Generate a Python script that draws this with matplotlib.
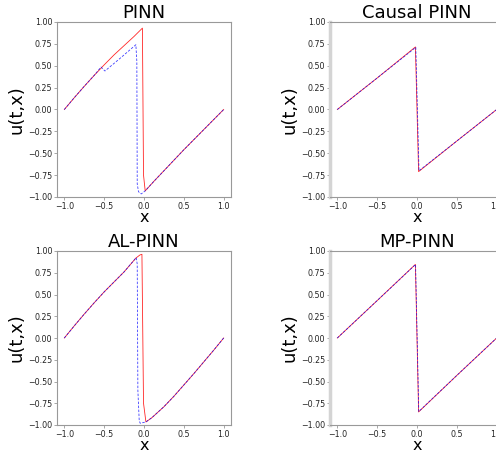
import matplotlib
matplotlib.use("Agg")
import matplotlib.pyplot as plt

titles = ["PINN", "Causal PINN", "AL-PINN", "MP-PINN"]

# PINN
pinn_x_exact = [-1.0, -0.875, -0.75, -0.625, -0.5, -0.375, -0.25, -0.125, -0.02, -0.006, 0.015, 0.125, 0.25, 0.375, 0.5, 0.625, 0.75, 0.875, 1.0]
pinn_u_exact = [0.0, 0.135, 0.265, 0.39, 0.51, 0.625, 0.73, 0.835, 0.93, -0.75, -0.93, -0.82, -0.70, -0.58, -0.46, -0.345, -0.23, -0.115, 0.0]
pinn_x_pred = [-1.0, -0.875, -0.75, -0.625, -0.54, -0.49, -0.3, -0.102, -0.09, -0.085, -0.069, -0.035, 0.015, 0.125, 0.25, 0.375, 0.5, 0.625, 0.75, 0.875, 1.0]
pinn_u_pred = [0.0, 0.135, 0.265, 0.39, 0.485, 0.44, 0.585, 0.74, 0.55, -0.85, -0.94, -0.965, -0.93, -0.82, -0.70, -0.58, -0.46, -0.345, -0.23, -0.115, 0.0]

# Causal PINN
causal_x_exact = [-1.0, -0.5, -0.02, 0.02, 0.5, 1.0]
causal_u_exact = [0.0, 0.36, 0.715, -0.71, -0.36, 0.0]
causal_x_pred = [-1.0, -0.5, -0.015, 0.025, 0.5, 1.0]
causal_u_pred = [0.0, 0.36, 0.71, -0.70, -0.36, 0.0]

# AL-PINN
al_x_exact = [-1.0, -0.875, -0.75, -0.625, -0.5, -0.375, -0.25, -0.1, -0.05, -0.026, -0.006, 0.024, 0.1, 0.25, 0.375, 0.5, 0.625, 0.75, 0.875, 1.0]
al_u_exact = [0.0, 0.14, 0.275, 0.405, 0.53, 0.645, 0.76, 0.92, 0.955, 0.962, -0.75, -0.965, -0.915, -0.79, -0.67, -0.54, -0.41, -0.275, -0.14, 0.0]
al_x_pred = [-1.0, -0.875, -0.75, -0.625, -0.5, -0.375, -0.25, -0.098, -0.085, -0.077, -0.06, -0.048, 0.024, 0.1, 0.25, 0.375, 0.5, 0.625, 0.75, 0.875, 1.0]
al_u_pred = [0.0, 0.14, 0.275, 0.405, 0.53, 0.645, 0.76, 0.924, 0.85, -0.6, -0.95, -0.98, -0.965, -0.915, -0.79, -0.67, -0.54, -0.41, -0.275, -0.14, 0.0]

# MP-PINN
mp_x_exact = [-1.0, -0.5, -0.02, 0.02, 0.5, 1.0]
mp_u_exact = [0.0, 0.43, 0.846, -0.85, -0.43, 0.0]
mp_x_pred = [-1.0, -0.5, -0.018, 0.022, 0.5, 1.0]
mp_u_pred = [0.0, 0.43, 0.845, -0.845, -0.43, 0.0]

panels = [
    (pinn_x_exact, pinn_u_exact, pinn_x_pred, pinn_u_pred),
    (causal_x_exact, causal_u_exact, causal_x_pred, causal_u_pred),
    (al_x_exact, al_u_exact, al_x_pred, al_u_pred),
    (mp_x_exact, mp_u_exact, mp_x_pred, mp_u_pred),
]

yticks = [-1.0, -0.75, -0.5, -0.25, 0.0, 0.25, 0.5, 0.75, 1.0]
xticks = [-1.0, -0.5, 0.0, 0.5, 1.0]


def fmt(v, nd):
    s = f"{v:.{nd}f}"
    return s.replace("-", "\u2212")


W, H = 496, 454
fig = plt.figure(figsize=(W / 100, H / 100), dpi=100)

boxes = [
    (57, 22, 174, 175),
    (330, 22, 174, 175),
    (57, 251, 174, 174),
    (330, 251, 174, 174),
]

for i, ((xe, ue, xp, up), (l, t, w, h)) in enumerate(zip(panels, boxes)):
    ax = fig.add_axes([l / W, 1 - (t + h) / H, w / W, h / H])
    ax.plot(xe, ue, color="red", lw=0.6, alpha=0.85)
    ax.plot(xp, up, color="blue", lw=0.6, ls=(0, (3, 1.8)), alpha=0.75)
    ax.set_xlim(-1.092, 1.092)
    ax.set_ylim(-1.0, 1.0)
    ax.set_xticks(xticks)
    ax.set_yticks(yticks)
    ax.set_xticklabels([fmt(v, 1) for v in xticks])
    ax.set_yticklabels([fmt(v, 2) for v in yticks])
    ax.tick_params(labelsize=5.7, length=2, width=0.6, color="#999999",
                   labelcolor="#222222", pad=1.5)
    for s in ax.spines.values():
        s.set_color("#999999")
        s.set_linewidth(0.8)
    if i % 2 == 1:
        ax.spines["left"].set_color("#d4d4d4")
        ax.spines["left"].set_linewidth(2.5)
    ax.set_title(titles[i], fontsize=13, pad=3)
    ax.set_xlabel("x", fontsize=11.5, labelpad=-0.3)
    ax.set_ylabel("u(t,x)", fontsize=13, labelpad=2)

fig.savefig("out.png", dpi=100)
